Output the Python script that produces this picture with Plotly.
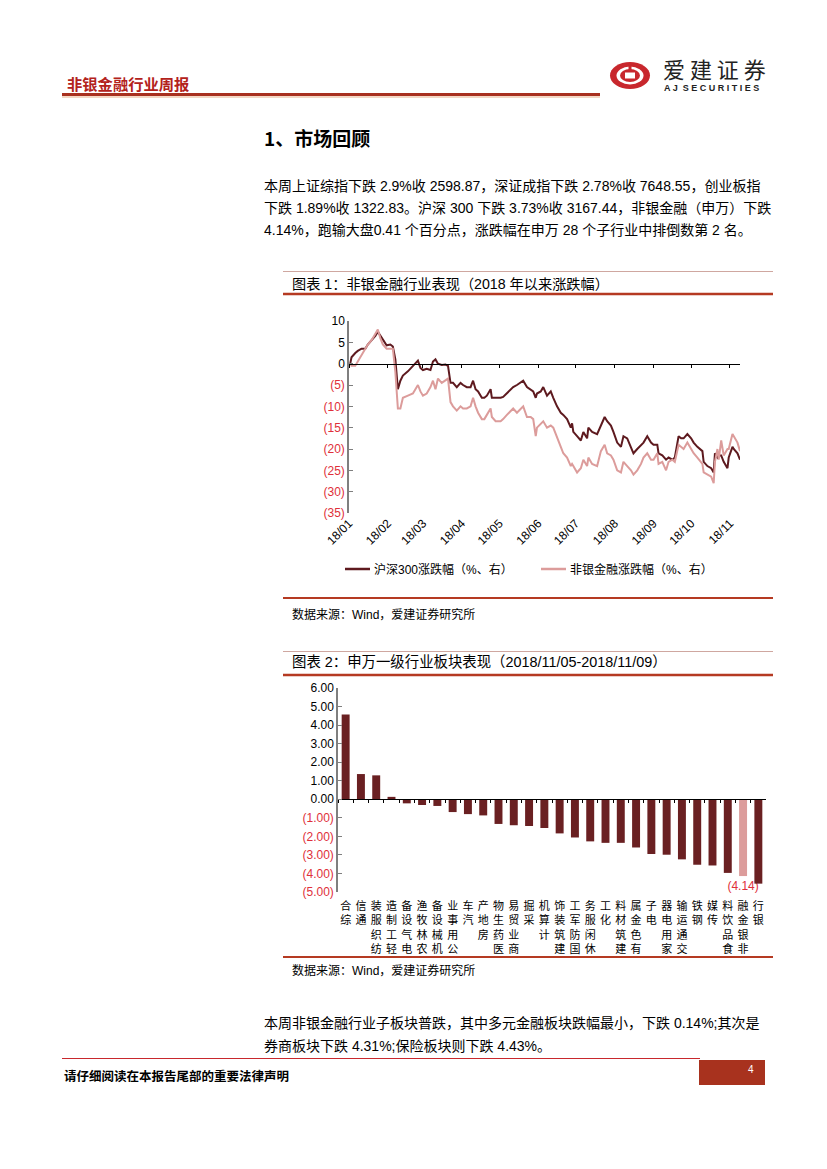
import plotly.graph_objects as go

W, H = 827, 1169

# ---------------- data: chart 1 (2018 YTD % change) ----------------
dates = [
    "2018-01-02", "2018-01-03", "2018-01-06", "2018-01-08", "2018-01-11", "2018-01-14",
    "2018-01-16", "2018-01-19", "2018-01-22", "2018-01-24", "2018-01-26", "2018-01-28",
    "2018-01-31", "2018-02-03", "2018-02-05", "2018-02-07", "2018-02-09", "2018-02-11",
    "2018-02-13", "2018-02-17", "2018-02-21", "2018-02-25", "2018-02-27", "2018-03-01",
    "2018-03-04", "2018-03-07", "2018-03-09", "2018-03-11", "2018-03-13", "2018-03-16",
    "2018-03-19", "2018-03-21", "2018-03-23", "2018-03-25", "2018-03-28", "2018-03-31",
    "2018-04-02", "2018-04-05", "2018-04-08", "2018-04-10", "2018-04-12", "2018-04-14",
    "2018-04-17", "2018-04-19", "2018-04-21", "2018-04-24", "2018-04-25", "2018-04-28",
    "2018-05-02", "2018-05-04", "2018-05-07", "2018-05-10", "2018-05-12", "2018-05-15",
    "2018-05-18", "2018-05-20", "2018-05-23", "2018-05-26", "2018-05-28", "2018-05-30",
    "2018-05-31", "2018-06-03", "2018-06-05", "2018-06-08", "2018-06-11", "2018-06-13",
    "2018-06-16", "2018-06-19", "2018-06-21", "2018-06-24", "2018-06-27", "2018-06-28",
    "2018-06-29", "2018-07-02", "2018-07-05", "2018-07-07", "2018-07-10", "2018-07-11",
    "2018-07-14", "2018-07-18", "2018-07-21", "2018-07-24", "2018-07-26", "2018-07-29",
    "2018-07-31", "2018-08-03", "2018-08-06", "2018-08-08", "2018-08-11", "2018-08-14",
    "2018-08-16", "2018-08-19", "2018-08-22", "2018-08-24", "2018-08-27", "2018-08-30",
    "2018-09-01", "2018-09-04", "2018-09-05", "2018-09-08", "2018-09-11", "2018-09-13",
    "2018-09-16", "2018-09-18", "2018-09-21", "2018-09-23", "2018-09-25", "2018-09-28",
    "2018-10-01", "2018-10-03", "2018-10-06", "2018-10-10", "2018-10-11", "2018-10-14",
    "2018-10-17", "2018-10-19", "2018-10-20", "2018-10-22", "2018-10-23", "2018-10-25",
    "2018-10-27", "2018-10-30", "2018-10-31", "2018-11-03", "2018-11-04", "2018-11-07",
    "2018-11-09",
]
hs300 = [
    0.0, 1.5, 2.5, 3.0, 3.5, 3.5,
    4.5, 5.5, 6.5, 7.5, 6.5, 5.5,
    4.3, 4.5, 4.0, 1.0, -6.0, -4.0,
    -2.8, -1.8, -0.5, 0.7, -1.0, -1.5,
    -1.2, -1.5, 0.5, 1.0, 0.0, -0.3,
    -0.2, -0.5, -4.5, -4.5, -5.5, -4.5,
    -5.0, -5.5, -5.5, -4.0, -6.0, -6.5,
    -8.0, -8.0, -7.5, -6.0, -8.0, -8.0,
    -8.0, -7.8, -7.0, -6.0, -5.5, -5.0,
    -4.5, -4.0, -5.5, -6.0, -6.5, -8.0,
    -7.0, -6.5, -5.5, -7.5, -6.5, -8.0,
    -10.0, -11.5, -12.0, -13.0, -15.0, -14.0,
    -16.0, -17.0, -18.0, -16.0, -17.5, -15.0,
    -16.0, -16.5, -14.5, -12.5, -13.5, -14.5,
    -16.0, -18.5, -19.5, -17.0, -17.5, -19.5,
    -21.0, -20.0, -19.0, -18.5, -17.0, -18.5,
    -19.0, -19.0, -21.0, -21.5, -22.5, -22.0,
    -22.5, -22.0, -17.0, -17.5, -17.5, -16.5,
    -17.5, -18.5, -19.5, -20.5, -23.0, -24.0,
    -24.5, -25.5, -21.0, -22.0, -21.5, -21.5,
    -23.0, -24.5, -22.0, -19.5, -20.0, -21.0,
    -22.5,
]
nonbank = [
    0.0, -0.5, -0.5, 0.5, 2.0, 3.5,
    4.5, 5.5, 7.0, 8.0, 6.0, 4.5,
    3.5, 3.5, 3.5, -2.0, -10.5, -10.5,
    -8.0, -7.5, -7.0, -5.0, -6.5, -7.5,
    -7.0, -5.5, -4.0, -6.0, -3.5, -4.5,
    -4.0, -3.5, -9.0, -10.0, -11.0, -10.0,
    -10.5, -10.5, -10.0, -8.0, -10.0, -11.5,
    -13.0, -13.0, -12.0, -10.5, -12.5, -13.5,
    -13.5, -13.0, -12.0, -11.0, -10.5, -11.5,
    -10.5, -10.0, -12.5, -12.5, -13.0, -17.0,
    -15.0, -14.0, -13.5, -15.0, -14.5, -15.0,
    -17.5, -19.5, -21.0, -22.0, -24.0, -23.5,
    -24.0, -25.5, -24.5, -22.5, -24.0, -22.0,
    -23.5, -24.0, -20.5, -19.0, -21.0, -21.5,
    -22.5, -25.0, -25.5, -23.0, -24.0, -25.0,
    -26.0, -25.0, -23.5, -22.0, -21.0, -22.5,
    -22.5, -21.0, -23.5, -23.0, -25.0, -23.0,
    -22.5, -23.0, -19.0, -19.5, -20.0, -18.5,
    -20.0, -21.0, -22.0, -23.5, -25.5, -26.0,
    -26.5, -28.0, -23.0, -20.0, -22.5, -18.0,
    -21.5, -20.0, -20.0, -16.5, -17.0, -18.5,
    -20.5,
]
series_names = ["沪深300涨跌幅（%、右）", "非银金融涨跌幅（%、右）"]
y1_ticks = [10, 5, 0, -5, -10, -15, -20, -25, -30, -35]

# ---------------- data: chart 2 (SW level-1 sectors, weekly %) ----------------
sectors = ["综合", "通信", "纺织服装", "轻工制造", "电气设备", "农林牧渔", "机械设备",
           "公用事业", "汽车", "房地产", "医药生物", "商业贸易", "采掘", "计算机",
           "建筑装饰", "国防军工", "休闲服务", "化工", "建筑材料", "有色金属", "电子",
           "家用电器", "交通运输", "钢铁", "传媒", "食品饮料", "非银金融", "银行"]
sector_chg = [4.57, 1.36, 1.29, 0.13, -0.22, -0.31, -0.36,
              -0.69, -0.80, -0.87, -1.33, -1.40, -1.44, -1.55,
              -1.84, -2.06, -2.27, -2.35, -2.35, -2.60, -2.95,
              -2.99, -3.24, -3.53, -3.57, -3.97, -4.14, -4.55]
highlight = "非银金融"
y2_ticks = [6, 5, 4, 3, 2, 1, 0, -1, -2, -3, -4, -5]

# ---------------- styles ----------------
RED_TXT = "#e0303a"
DARK = "#5e1a1f"
PINK = "#dc9c9b"
BAR = "#6a2022"
FRAME = "#b53a22"
THIN = "#cfa7a0"
AXIS_GRAY = "#7f7f7f"
FONT = "Liberation Sans, Noto Sans CJK SC, sans-serif"
CJK = "Noto Sans CJK SC, sans-serif"


def px(x):
    return x / W


def py(y):
    return 1 - y / H


def neg_fmt(v, dec):
    s = f"{abs(v):.{dec}f}"
    if v < 0:
        return f"<span style='color:{RED_TXT}'>({s})</span>"
    return s


fig = go.Figure()

# helper trace for the zero-line axis of chart 1
fig.add_trace(go.Scatter(x=dates, y=hs300, mode="lines", line=dict(width=0),
                         opacity=0, hoverinfo="skip", showlegend=False,
                         xaxis="x3", yaxis="y"))
# ---- chart 1 lines ----
fig.add_trace(go.Scatter(x=dates, y=hs300, mode="lines", name=series_names[0],
                         line=dict(color=DARK, width=2), xaxis="x", yaxis="y",
                         showlegend=False))
fig.add_trace(go.Scatter(x=dates, y=nonbank, mode="lines", name=series_names[1],
                         line=dict(color=PINK, width=2), xaxis="x", yaxis="y",
                         showlegend=False))

# ---- chart 2 bars ----
bar_colors = [PINK if s == highlight else BAR for s in sectors]
bar_text = [f"({abs(v):.2f})" if s == highlight else "" for s, v in zip(sectors, sector_chg)]
fig.add_trace(go.Scatter(x=sectors, y=sector_chg, mode="lines", line=dict(width=0),
                         opacity=0, hoverinfo="skip", showlegend=False,
                         xaxis="x4", yaxis="y2"))
fig.add_trace(go.Bar(x=sectors, y=sector_chg, marker=dict(color=bar_colors, line=dict(width=0)),
                     width=0.52, text=bar_text, textposition="outside",
                     textfont=dict(color=RED_TXT, size=12, family=FONT),
                     constraintext="none", cliponaxis=False, showlegend=False,
                     xaxis="x2", yaxis="y2"))

stacked_labels = ["<br>".join(reversed(list(s))) for s in sectors]

c1_x0, c1_x1, c1_top, c1_bot, c1_zero = 349, 740, 321, 513, 363.7
c2_x0, c2_x1, c2_top, c2_bot, c2_zero = 338, 766, 688, 892, 799

fig.update_layout(
    template="none",
    width=W, height=H, autosize=False,
    margin=dict(l=0, r=0, t=0, b=0, pad=0),
    paper_bgcolor="white", plot_bgcolor="rgba(0,0,0,0)",
    font=dict(family=FONT, size=12, color="#000"),
    showlegend=False,
    xaxis=dict(domain=[px(c1_x0), px(c1_x1)], anchor="y", type="date", automargin=False,
               range=["2018-01-01", "2018-11-09"], tick0="2018-01-01", dtick="M1",
               tickformat="%y/%m", tickangle=-45, ticks="", showline=False,
               showgrid=False, zeroline=False, tickfont=dict(size=12, family=FONT)),
    yaxis=dict(domain=[py(c1_bot), py(c1_top)], anchor="x", range=[-35, 10], automargin=False,
               tickvals=y1_ticks, ticktext=[neg_fmt(v, 0) for v in y1_ticks],
               showline=True, linecolor=AXIS_GRAY, linewidth=1.5, ticks="inside",
               ticklen=4, tickcolor=AXIS_GRAY, showgrid=False, zeroline=False,
               tickfont=dict(size=12, family=FONT)),
    xaxis3=dict(domain=[px(c1_x0), px(c1_x1)], overlaying="x", anchor="free", automargin=False,
                position=py(c1_zero), type="date", range=["2018-01-01", "2018-11-09"],
                tick0="2018-01-01", dtick="M1", ticks="outside", ticklen=3,
                tickcolor="#000", showticklabels=False, showline=True, linecolor="#000",
                linewidth=1.2, showgrid=False, zeroline=False),
    xaxis2=dict(domain=[px(c2_x0), px(c2_x1)], anchor="y2", type="category", automargin=False,
                categoryorder="array", categoryarray=sectors, range=[-0.5, 27.5],
                tickvals=sectors, ticktext=stacked_labels, tickangle=0, ticks="",
                showline=False, showgrid=False, zeroline=False,
                tickfont=dict(size=11, family=CJK), ticklabelstandoff=6),
    yaxis2=dict(domain=[py(c2_bot), py(c2_top)], anchor="x2", range=[-5, 6], automargin=False,
                tickvals=y2_ticks, ticktext=[neg_fmt(v, 2) for v in y2_ticks],
                showline=True, linecolor=AXIS_GRAY, linewidth=1.5, ticks="inside",
                ticklen=4, tickcolor=AXIS_GRAY, showgrid=False, zeroline=False,
                tickfont=dict(size=12, family=FONT)),
    xaxis4=dict(domain=[px(c2_x0), px(c2_x1)], overlaying="x2", anchor="free", automargin=False,
                position=py(c2_zero), type="category", categoryorder="array",
                categoryarray=sectors, range=[-0.5, 27.5], tickson="boundaries",
                ticks="outside", ticklen=3, tickcolor="#000", showticklabels=False,
                showline=True, linecolor="#000", linewidth=1.2, showgrid=False,
                zeroline=False),
)

shapes = []
annots = []


def hline(x0, x1, y, color, width):
    shapes.append(dict(type="line", xref="paper", yref="paper", x0=px(x0), x1=px(x1),
                       y0=py(y), y1=py(y), line=dict(color=color, width=width)))


def text(x, y, s, size, color="#000", bold=False, family=FONT, anchor="left"):
    if bold:
        s = f"<b>{s}</b>"
    annots.append(dict(xref="paper", yref="paper", x=px(x), y=py(y), text=s,
                       showarrow=False, xanchor=anchor, yanchor="middle",
                       font=dict(size=size, color=color, family=family)))


# ---- header ----
text(65, 83, "非银金融行业周报", 15.3, color="#b3221b", bold=True, family=CJK)
hline(62, 600, 94.5, "#a8301f", 3)
hline(62, 600, 97, "#e8b08a", 1)
# logo
shapes.append(dict(type="circle", xref="paper", yref="paper", x0=px(610), x1=px(650),
                   y0=py(89), y1=py(62), fillcolor="#c8272d", line=dict(width=0)))
shapes.append(dict(type="circle", xref="paper", yref="paper", x0=px(616.5), x1=px(643.5),
                   y0=py(84.5), y1=py(66.5), fillcolor="white", line=dict(width=0)))
shapes.append(dict(type="circle", xref="paper", yref="paper", x0=px(620), x1=px(640),
                   y0=py(82), y1=py(69), fillcolor="#c8272d", line=dict(width=0)))
shapes.append(dict(type="rect", xref="paper", yref="paper", x0=px(625), x1=px(635),
                   y0=py(78.5), y1=py(72.5), fillcolor="white", line=dict(width=0)))
shapes.append(dict(type="rect", xref="paper", yref="paper", x0=px(628.5), x1=px(631.5),
                   y0=py(70), y1=py(64), fillcolor="#c8272d", line=dict(width=0)))
text(661, 68, "爱 建 证 券", 22, color="#222", family=CJK)
text(662, 88, "A J  S E C U R I T I E S", 9, color="#222", bold=True,
     family="Liberation Sans, sans-serif")

# ---- section text ----
text(262, 137, "1、市场回顾", 19, bold=True, family=CJK)
para1 = [
    "本周上证综指下跌 2.9%收 2598.87，深证成指下跌 2.78%收 7648.55，创业板指",
    "下跌 1.89%收 1322.83。沪深 300 下跌 3.73%收 3167.44，非银金融（申万）下跌",
    "4.14%，跑输大盘0.41 个百分点，涨跌幅在申万 28 个子行业中排倒数第 2 名。",
]
for i, line in enumerate(para1):
    text(262, 186 + i * 22, line, 14)

# ---- chart 1 frame ----
hline(283, 773, 271.5, THIN, 1)
text(290, 284, "图表 1：非银金融行业表现（2018 年以来涨跌幅）", 14.2)
hline(283, 773, 294, FRAME, 2.5)
# legend
hline(345, 370, 569, DARK, 2.5)
text(372, 569, series_names[0], 12)
hline(541, 566, 569, PINK, 2.5)
text(568, 569, series_names[1], 12)
hline(283, 773, 598, FRAME, 2.2)
text(290, 614, "数据来源：Wind，爱建证券研究所", 12)

# ---- chart 2 frame ----
hline(283, 773, 651.5, THIN, 1)
text(290, 662, "图表 2：申万一级行业板块表现（2018/11/05-2018/11/09）", 14.4)
hline(283, 773, 675, FRAME, 2.5)
hline(283, 773, 957, FRAME, 2.2)
text(290, 970, "数据来源：Wind，爱建证券研究所", 12)

# ---- bottom paragraph ----
para2 = [
    "本周非银金融行业子板块普跌，其中多元金融板块跌幅最小，下跌 0.14%;其次是",
    "券商板块下跌 4.31%;保险板块则下跌 4.43%。",
]
for i, line in enumerate(para2):
    text(262, 1023 + i * 23, line, 14)

# ---- footer ----
hline(62, 700, 1058.5, "#c8282d", 1)
shapes.append(dict(type="rect", xref="paper", yref="paper", x0=px(699), x1=px(765),
                   y0=py(1085), y1=py(1060), fillcolor="#a8321e", line=dict(width=0)))
text(751, 1069, "4", 10, color="white", anchor="center")
text(62, 1075, "请仔细阅读在本报告尾部的重要法律声明", 12.5, bold=True, family=CJK)

fig.update_layout(shapes=shapes, annotations=annots)

fig.write_html("out.html", config={"displayModeBar": False},
               post_script="document.body.style.margin='0';")
